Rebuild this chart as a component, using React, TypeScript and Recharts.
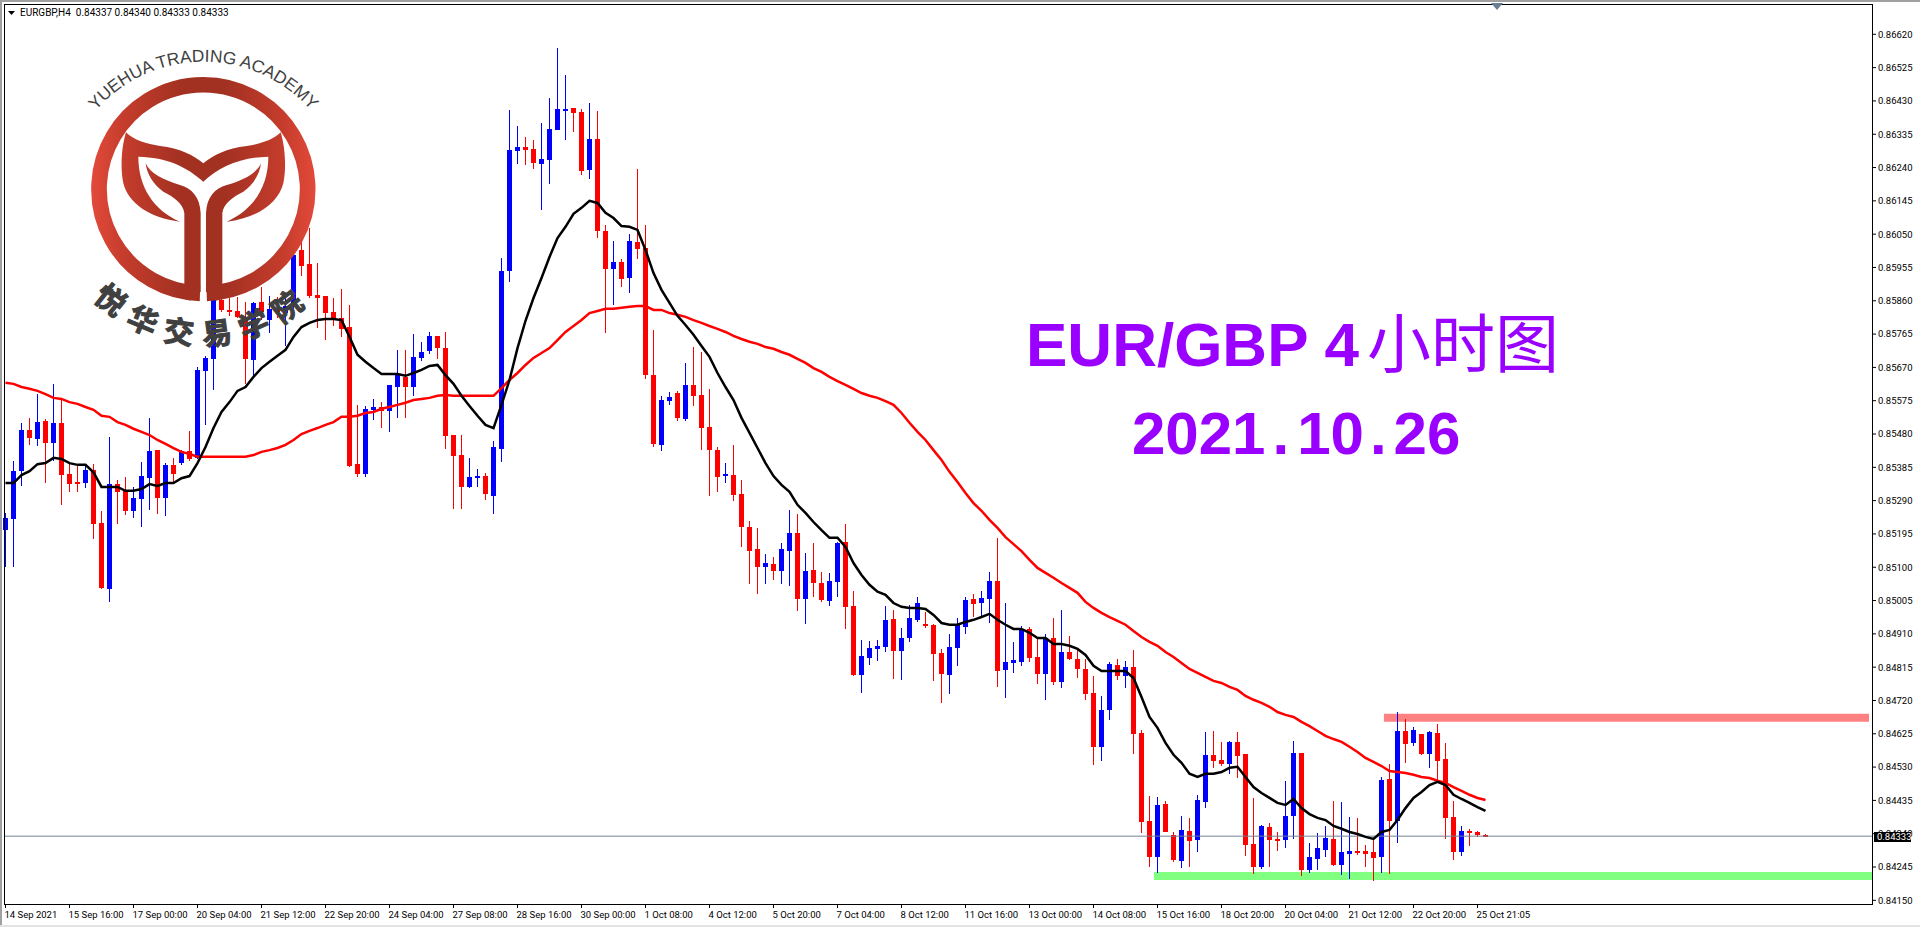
import React from "react";
import { Bar, ComposedChart, Line, ReferenceArea, ReferenceLine, XAxis, YAxis } from "recharts";

// prices are in points (1 point = 0.00001), one value per H4 bar
const opens = [
  85206, 85238, 85374, 85491, 85466, 85517, 85454, 85511, 85366, 85343,
  85340, 85377, 85226, 85038, 85337, 85317, 85261, 85295, 85354, 85434,
  85298, 85392, 85397, 85431, 85412, 85660, 85694, 85862, 85833, 85831,
  85814, 85691, 85856, 85805, 85836, 85825, 85853, 86005, 85966, 85877,
  85874, 85828, 85811, 85785, 85394, 85366, 85549, 85557, 85546, 85614,
  85643, 85614, 85697, 85717, 85760, 85725, 85477, 85420, 85329, 85354,
  85360, 85303, 85437, 85945, 86287, 86299, 86293, 86250, 86262, 86347,
  86404, 86410, 86399, 86233, 86322, 86059, 85951, 85971, 85925, 86028,
  86011, 85648, 85449, 85574, 85597, 85523, 85620, 85591, 85500, 85434,
  85360, 85363, 85309, 85215, 85152, 85101, 85109, 85089, 85146, 85198,
  85010, 85092, 85055, 85004, 85058, 85172, 84990, 84793, 84841, 84867,
  84872, 84953, 84861, 84898, 84950, 84939, 84936, 84856, 84793, 84870,
  84930, 85010, 84998, 85010, 85061, 84807, 84827, 84830, 84924, 84844,
  84796, 84898, 84773, 84858, 84838, 84810, 84742, 84588, 84693, 84822,
  84790, 84816, 84628, 84376, 84273, 84425, 84336, 84262, 84348, 84322,
  84430, 84565, 84551, 84540, 84602, 84568, 84311, 84245, 84359, 84325,
  84322, 84390, 84571, 84236, 84268, 84294, 84325, 84251, 84282, 84291,
  84291, 84288, 84273, 84496, 84376, 84634, 84599, 84625, 84568, 84628,
  84554, 84388, 84288, 84348, 84345, 84337,
];
const closes = [
  85241, 85374, 85491, 85469, 85514, 85454, 85511, 85363, 85337, 85337,
  85377, 85224, 85041, 85337, 85315, 85261, 85298, 85360, 85431, 85298,
  85392, 85366, 85431, 85409, 85663, 85697, 85868, 85833, 85828, 85814,
  85694, 85853, 85828, 85836, 85828, 85845, 85991, 85960, 85874, 85868,
  85825, 85811, 85779, 85389, 85366, 85551, 85557, 85546, 85620, 85648,
  85614, 85700, 85714, 85760, 85725, 85474, 85417, 85329, 85357, 85360,
  85309, 85443, 85945, 86290, 86299, 86290, 86253, 86265, 86350, 86407,
  86407, 86396, 86230, 86322, 86059, 85951, 85971, 85922, 86031, 86008,
  85648, 85451, 85577, 85586, 85526, 85620, 85588, 85497, 85434, 85357,
  85366, 85306, 85215, 85146, 85101, 85112, 85089, 85152, 85198, 85010,
  85089, 85055, 85007, 85061, 85169, 84987, 84793, 84847, 84870, 84876,
  84950, 84861, 84898, 84956, 84998, 84933, 84853, 84796, 84873, 84936,
  85007, 84996, 85013, 85061, 84804, 84830, 84836, 84924, 84841, 84796,
  84898, 84773, 84858, 84838, 84810, 84739, 84588, 84693, 84825, 84790,
  84816, 84625, 84374, 84273, 84422, 84345, 84265, 84350, 84319, 84436,
  84565, 84548, 84540, 84602, 84562, 84308, 84245, 84362, 84322, 84322,
  84390, 84571, 84236, 84273, 84299, 84328, 84251, 84288, 84291, 84285,
  84282, 84271, 84493, 84376, 84634, 84596, 84636, 84568, 84631, 84548,
  84385, 84288, 84348, 84342, 84336, 84333,
];
const highs = [
  85255, 85403, 85511, 85526, 85594, 85523, 85623, 85577, 85397, 85389,
  85392, 85394, 85261, 85471, 85349, 85357, 85329, 85400, 85526, 85434,
  85397, 85411, 85434, 85488, 85671, 85702, 85891, 85874, 85868, 85871,
  85856, 85856, 85899, 85874, 85871, 85868, 86020, 86028, 86068, 85968,
  85874, 85868, 85894, 85848, 85563, 85560, 85580, 85571, 85620, 85719,
  85719, 85765, 85742, 85771, 85760, 85771, 85477, 85477, 85411, 85380,
  85369, 85460, 85982, 86404, 86359, 86327, 86319, 86367, 86438, 86581,
  86504, 86410, 86407, 86424, 86401, 86076, 86031, 85979, 86051, 86236,
  86076, 85777, 85588, 85600, 85603, 85682, 85728, 85714, 85608, 85443,
  85397, 85449, 85349, 85232, 85212, 85138, 85129, 85169, 85263, 85252,
  85141, 85169, 85087, 85084, 85172, 85224, 85033, 84893, 84890, 84893,
  84990, 84978, 84927, 84993, 85015, 84973, 84939, 84867, 84910, 84956,
  85015, 85024, 85033, 85087, 85184, 84998, 84887, 84933, 84930, 84901,
  84910, 84956, 84978, 84904, 84864, 84838, 84790, 84733, 84830, 84838,
  84833, 84864, 84636, 84447, 84445, 84433, 84345, 84390, 84385, 84450,
  84631, 84634, 84602, 84605, 84631, 84568, 84442, 84365, 84370, 84345,
  84490, 84605, 84571, 84314, 84342, 84362, 84433, 84430, 84388, 84385,
  84308, 84325, 84502, 84540, 84688, 84668, 84645, 84625, 84634, 84654,
  84599, 84433, 84362, 84353, 84348, 84340,
];
const lows = [
  85101, 85101, 85332, 85449, 85446, 85340, 85403, 85278, 85315, 85315,
  85326, 85181, 85038, 85001, 85224, 85249, 85241, 85215, 85263, 85252,
  85246, 85343, 85392, 85403, 85409, 85506, 85606, 85828, 85817, 85811,
  85623, 85643, 85805, 85768, 85811, 85731, 85825, 85931, 85868, 85782,
  85748, 85788, 85757, 85386, 85357, 85357, 85520, 85497, 85486, 85526,
  85526, 85588, 85688, 85708, 85694, 85437, 85266, 85266, 85326, 85329,
  85292, 85252, 85400, 85914, 86250, 86247, 86236, 86119, 86193, 86347,
  86319, 86342, 86219, 86207, 86039, 85768, 85848, 85899, 85882, 85979,
  85637, 85443, 85431, 85563, 85517, 85517, 85560, 85434, 85303, 85315,
  85340, 85289, 85158, 85052, 85024, 85052, 85064, 85052, 85047, 84976,
  84939, 85015, 85001, 84990, 85015, 84924, 84790, 84742, 84821, 84833,
  84858, 84781, 84778, 84887, 84944, 84927, 84776, 84713, 84739, 84819,
  84910, 84959, 84959, 84941, 84759, 84727, 84799, 84819, 84830, 84767,
  84722, 84764, 84756, 84836, 84784, 84722, 84537, 84548, 84665, 84778,
  84756, 84568, 84342, 84245, 84228, 84345, 84259, 84242, 84245, 84288,
  84413, 84528, 84534, 84511, 84499, 84276, 84225, 84239, 84245, 84291,
  84299, 84325, 84219, 84228, 84236, 84273, 84248, 84222, 84211, 84279,
  84245, 84205, 84228, 84225, 84314, 84542, 84591, 84565, 84528, 84493,
  84325, 84265, 84276, 84305, 84331, 84333,
];
const fastMa = [
  85340, 85340, 85363, 85374, 85394, 85397, 85412, 85409, 85397, 85392,
  85392, 85371, 85329, 85329, 85329, 85318, 85318, 85323, 85337, 85332,
  85340, 85340, 85354, 85360, 85397, 85443, 85497, 85543, 85571, 85603,
  85614, 85643, 85668, 85686, 85703, 85720, 85757, 85785, 85797, 85805,
  85808, 85808, 85805, 85757, 85706, 85686, 85668, 85651, 85651, 85651,
  85646, 85654, 85663, 85674, 85677, 85648, 85623, 85589, 85560, 85532,
  85506, 85497, 85563, 85634, 85725, 85803, 85868, 85925, 85985, 86039,
  86071, 86108, 86125, 86145, 86139, 86111, 86096, 86073, 86071, 86062,
  86005, 85939, 85891, 85854, 85817, 85791, 85763, 85731, 85700, 85654,
  85614, 85577, 85526, 85483, 85440, 85397, 85360, 85335, 85315, 85278,
  85255, 85229, 85206, 85184, 85184, 85158, 85112, 85078, 85050, 85030,
  85021, 84998, 84987, 84984, 84984, 84981, 84964, 84941, 84936, 84936,
  84944, 84950, 84958, 84967, 84950, 84936, 84924, 84924, 84913, 84898,
  84898, 84881, 84881, 84876, 84867, 84850, 84819, 84804, 84804, 84804,
  84804, 84784, 84730, 84673, 84642, 84599, 84565, 84542, 84511, 84502,
  84511, 84511, 84516, 84528, 84531, 84502, 84473, 84456, 84442, 84428,
  84422, 84439, 84413, 84396, 84385, 84379, 84362, 84354, 84345, 84339,
  84331, 84325, 84345, 84351, 84379, 84413, 84442, 84459, 84479, 84488,
  84479, 84451, 84439, 84428, 84416, 84405,
];
const slowMa = [
  85626, 85623, 85614, 85609, 85603, 85594, 85583, 85580, 85571, 85566,
  85557, 85549, 85532, 85529, 85514, 85506, 85495, 85486, 85477, 85463,
  85452, 85440, 85429, 85423, 85415, 85415, 85415, 85415, 85415, 85415,
  85415, 85420, 85429, 85434, 85440, 85449, 85463, 85480, 85489, 85497,
  85506, 85514, 85529, 85529, 85532, 85540, 85543, 85552, 85557, 85563,
  85569, 85577, 85580, 85583, 85589, 85591, 85589, 85589, 85589, 85589,
  85589, 85589, 85611, 85634, 85654, 85677, 85697, 85711, 85725, 85748,
  85771, 85788, 85805, 85825, 85831, 85837, 85837, 85840, 85843, 85845,
  85845, 85834, 85834, 85825, 85820, 85814, 85805, 85797, 85788, 85780,
  85771, 85760, 85751, 85743, 85737, 85728, 85723, 85714, 85706, 85694,
  85683, 85668, 85657, 85643, 85631, 85620, 85609, 85597, 85589, 85583,
  85574, 85563, 85540, 85512, 85486, 85463, 85434, 85406, 85372, 85343,
  85312, 85283, 85261, 85235, 85212, 85186, 85166, 85146, 85121, 85098,
  85084, 85070, 85055, 85041, 85027, 85001, 84984, 84970, 84958, 84947,
  84936, 84918, 84901, 84887, 84876, 84858, 84844, 84827, 84810, 84799,
  84787, 84776, 84770, 84759, 84750, 84733, 84722, 84713, 84702, 84687,
  84679, 84673, 84659, 84647, 84633, 84619, 84610, 84602, 84588, 84573,
  84556, 84545, 84533, 84519, 84516, 84513, 84508, 84502, 84499, 84491,
  84485, 84473, 84462, 84451, 84442, 84436,
];
const priceTicks = [
  86620, 86525, 86430, 86335, 86240, 86145, 86050, 85955, 85860, 85765, 85670, 85575, 85480, 85385,
  85290, 85195, 85100, 85005, 84910, 84815, 84720, 84625, 84530, 84435, 84340, 84245, 84150,
];
const timeLabels = [
  "14 Sep 2021", "15 Sep 16:00", "17 Sep 00:00", "20 Sep 04:00", "21 Sep 12:00", "22 Sep 20:00",
  "24 Sep 04:00", "27 Sep 08:00", "28 Sep 16:00", "30 Sep 00:00", "1 Oct 08:00", "4 Oct 12:00",
  "5 Oct 20:00", "7 Oct 04:00", "8 Oct 12:00", "11 Oct 16:00", "13 Oct 00:00", "14 Oct 08:00",
  "15 Oct 16:00", "18 Oct 20:00", "20 Oct 04:00", "21 Oct 12:00", "22 Oct 20:00", "25 Oct 21:05",
];
const BARS_PER_LABEL = 8;
const LAST_PRICE = 84333;
const resistanceZone = { x1: 172.3, x2: 232.94, y1: 84659, y2: 84682 };
const supportZone = { x1: 143.56, x2: 233.3125, y1: 84208, y2: 84231 };

const rows = opens.map((open, index) => ({
  index,
  open,
  close: closes[index],
  high: highs[index],
  low: lows[index],
  range: [lows[index], highs[index]],
  fast: fastMa[index],
  slow: slowMa[index],
}));

const AXIS_FONT = "Roboto, sans-serif";
const PURPLE = "#9900ff";

function formatPrice(value: number) {
  return (value / 100000).toFixed(5);
}

function Candle(props: any) {
  const { x, y, width, height, payload } = props;
  const center = Math.floor(x + width / 2);
  const pxPerPoint = height / (payload.high - payload.low);
  const priceY = (price: number) => y + (payload.high - price) * pxPerPoint;
  const color = payload.close >= payload.open ? "#0000ff" : "#ff0000";
  const bodyTop = Math.round(priceY(Math.max(payload.open, payload.close)));
  const bodyBottom = Math.round(priceY(Math.min(payload.open, payload.close)));
  return (
    <g shapeRendering="crispEdges">
      <rect x={center} y={y} width={1} height={height} fill={color} />
      <rect x={center - 2} y={bodyTop} width={5} height={Math.max(2, bodyBottom - bodyTop)} fill={color} />
    </g>
  );
}

function TimeTick(props: any) {
  const { x, y, payload } = props;
  return (
    <text x={x - 1} y={y + 8} fontFamily={AXIS_FONT} fontSize={9.5} fill="#000">
      {timeLabels[payload.value / BARS_PER_LABEL]}
    </text>
  );
}

function Logo() {
  return (
    <g transform="scale(0.33333)">
      <defs>
        <linearGradient id="logoFill" gradientUnits="userSpaceOnUse" x1="273" x2="947" y1="0" y2="0">
          <stop offset="0" stopColor="#e34a3a" />
          <stop offset="0.15" stopColor="#c43c2c" />
          <stop offset="0.4" stopColor="#a33122" />
          <stop offset="0.6" stopColor="#a33122" />
          <stop offset="0.85" stopColor="#c43c2c" />
          <stop offset="1" stopColor="#e34a3a" />
        </linearGradient>
        <path id="logoTop" d="M 240 397 A 429 429 0 0 1 980 397" />
        <path id="logoBottom" d="M 190 761 A 459 459 0 0 0 1030 761" />
      </defs>
      <path d="M 620 880 A 313 313 0 1 0 600 880" fill="none" stroke="url(#logoFill)" strokeWidth={47} />
      <path
        d="M 378 397 C 400 420 440 432 480 438 C 540 445 580 465 610 490 C 640 465 680 445 740 438 C 780 432 820 420 842 397
           C 855 440 860 500 850 550 C 835 610 770 655 680 665 C 760 630 805 560 805 470 C 720 472 660 500 610 545
           C 560 500 500 472 415 470 C 415 560 460 630 540 665 C 450 655 385 610 370 550 C 360 500 365 440 378 397 Z"
        fill="url(#logoFill)"
      />
      <path
        id="logoStem"
        d="M 437 490 C 450 520 490 540 540 555 C 575 565 600 590 602 640 L 602 875 L 570 902 L 553 890 L 553 640 C 550 610 520 590 490 575 C 460 555 440 520 437 490 Z"
        fill="url(#logoFill)"
      />
      <use href="#logoStem" transform="translate(1220 0) scale(-1 1)" />
      <text fontFamily="Liberation Sans, sans-serif" fontSize={52} fill="#404040">
        <textPath href="#logoTop" startOffset="50%" textAnchor="middle">
          YUEHUA TRADING ACADEMY
        </textPath>
      </text>
      <text
        fontFamily="Noto Sans CJK SC, sans-serif"
        fontWeight={700}
        fontSize={90}
        letterSpacing={33}
        fill="#404040"
        stroke="#404040"
        strokeWidth={3}
      >
        <textPath href="#logoBottom" startOffset="50%" textAnchor="middle">
          悦华交易学院
        </textPath>
      </text>
    </g>
  );
}

function Overlay() {
  return (
    <svg width={1920} height={927} style={{ position: "absolute", left: 0, top: 0, pointerEvents: "none" }}>
      <rect x={0} y={0} width={1920} height={2} fill="#a0a0a0" />
      <rect x={0} y={0} width={2} height={927} fill="#a0a0a0" />
      <rect x={0} y={925} width={1920} height={2} fill="#e4e4e4" />
      <rect x={4.5} y={4.5} width={1868} height={900} fill="none" stroke="#000" strokeWidth={1} />
      <polygon points="8,11 15,11 11.5,15" fill="#000" />
      <polygon points="1491,3 1503,3 1497,10" fill="#6a7f95" />
      <text x={20} y={16} fontFamily={AXIS_FONT} fontSize={10} fill="#000" xmlSpace="preserve">
        EURGBP,H4  0.84337 0.84340 0.84333 0.84333
      </text>
      <rect x={1874} y={832} width={37} height={10} fill="#000" />
      <text x={1877} y={840} fontFamily={AXIS_FONT} fontSize={9.5} fill="#fff">
        {formatPrice(LAST_PRICE)}
      </text>
      <Logo />
      <text x={1026} y={366} fontFamily="Liberation Sans, sans-serif" fontWeight={700} fontSize={62} fill={PURPLE}>
        EUR/GBP 4
      </text>
      <text x={1367} y={367} fontFamily="Noto Sans CJK SC, sans-serif" fontSize={64} fill={PURPLE}>
        小时图
      </text>
      <text x={1132} y={454} fontFamily="Liberation Sans, sans-serif" fontWeight={700} fontSize={60} fill={PURPLE}>
        <tspan>2021</tspan>
        <tspan dx={7}>.</tspan>
        <tspan dx={8}>10</tspan>
        <tspan dx={6}>.</tspan>
        <tspan dx={7}>26</tspan>
      </text>
    </svg>
  );
}

export default function App() {
  return (
    <div style={{ position: "absolute", left: 0, top: 0, width: 1920, height: 927, background: "#fff", overflow: "hidden" }}>
      <ComposedChart width={1920} height={927} data={rows} margin={{ top: 5, right: 0, bottom: 0, left: 5 }}>
        <XAxis
          dataKey="index"
          type="number"
          domain={[-0.0625, 233.3125]}
          ticks={timeLabels.map((_, i) => i * BARS_PER_LABEL)}
          interval={0}
          height={23}
          tick={<TimeTick />}
          tickSize={4}
          tickLine={{ stroke: "#000" }}
          axisLine={false}
        />
        <YAxis
          orientation="right"
          type="number"
          domain={[84139.5, 86703.6]}
          ticks={priceTicks}
          interval={0}
          width={48}
          tickSize={4}
          tickMargin={2}
          tickLine={{ stroke: "#000" }}
          axisLine={false}
          tickFormatter={formatPrice}
          tick={{ fontFamily: AXIS_FONT, fontSize: 9.5, fill: "#000" }}
        />
        <ReferenceArea {...resistanceZone} fill="#ff8080" fillOpacity={1} stroke="none" />
        <ReferenceArea {...supportZone} fill="#80ff80" fillOpacity={1} stroke="none" />
        <ReferenceLine y={LAST_PRICE} stroke="#708090" strokeWidth={1} />
        <Bar dataKey="range" barSize={5} shape={<Candle />} isAnimationActive={false} />
        <Line dataKey="slow" stroke="#ff0000" strokeWidth={2.5} dot={false} activeDot={false} type="linear" isAnimationActive={false} />
        <Line dataKey="fast" stroke="#000000" strokeWidth={2.5} dot={false} activeDot={false} type="linear" isAnimationActive={false} />
      </ComposedChart>
      <Overlay />
    </div>
  );
}
